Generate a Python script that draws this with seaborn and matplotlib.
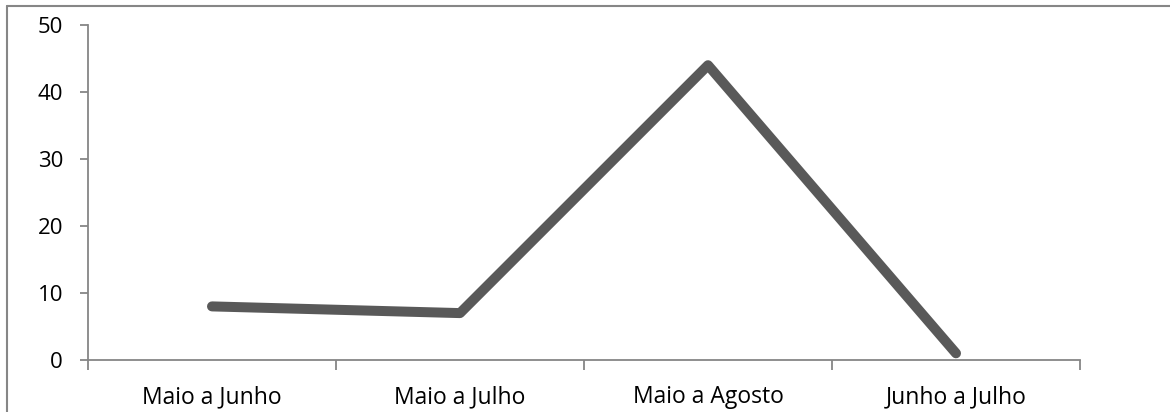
import matplotlib
matplotlib.use("Agg")
import matplotlib.pyplot as plt
from matplotlib.ticker import FixedLocator
from matplotlib.lines import Line2D
import seaborn as sns
import pandas as pd

categories = ["Maio a Junho", "Maio a Julho", "Maio a Agosto", "Junho a Julho"]
values = [8, 7, 44, 1]
y_ticks = [0, 10, 20, 30, 40, 50]

sns.set_theme(style="white")
plt.rcParams["font.family"] = ["Open Sans", "DejaVu Sans"]

df = pd.DataFrame({"periodo": categories, "valor": values})

fig = plt.figure(figsize=(11.7, 4.12), dpi=100)
ax = fig.add_axes([88 / 1170, 52 / 412, (1080 - 88) / 1170, (360 - 25) / 412])

sns.lineplot(data=df, x="periodo", y="valor", ax=ax, color="#595959",
             linewidth=7.2, sort=False)
for ln in ax.lines:
    ln.set_solid_capstyle("round")
    ln.set_solid_joinstyle("round")

ax.set_xlim(-0.5, len(categories) - 0.5)
ax.set_ylim(0, 50)
ax.set_yticks(y_ticks)
ax.set_xticks(range(len(categories)))
ax.set_xticklabels(categories)
ax.xaxis.set_minor_locator(FixedLocator([i - 0.5 for i in range(len(categories) + 1)]))
ax.set_xlabel("")
ax.set_ylabel("")

for side in ("top", "right"):
    ax.spines[side].set_visible(False)
for side in ("left", "bottom"):
    ax.spines[side].set_color("#868686")
    ax.spines[side].set_linewidth(1.3)

ax.tick_params(axis="x", which="major", length=0, pad=18, labelsize=16.5, labelcolor="black")
ax.tick_params(axis="x", which="minor", bottom=True, length=7, width=1.3, color="#868686", direction="out")
ax.tick_params(axis="y", left=True, length=6, width=1.3, color="#868686", direction="out",
               pad=12, labelsize=16, labelcolor="black")

# outer chart border (left and top edges)
fig.add_artist(Line2D([7 / 1170, 7 / 1170], [0, 1 - 6 / 412], transform=fig.transFigure,
                      color="#868686", linewidth=1.5))
fig.add_artist(Line2D([7 / 1170, 1], [1 - 6 / 412, 1 - 6 / 412], transform=fig.transFigure,
                      color="#868686", linewidth=1.5))

fig.savefig("out.png", dpi=100)
